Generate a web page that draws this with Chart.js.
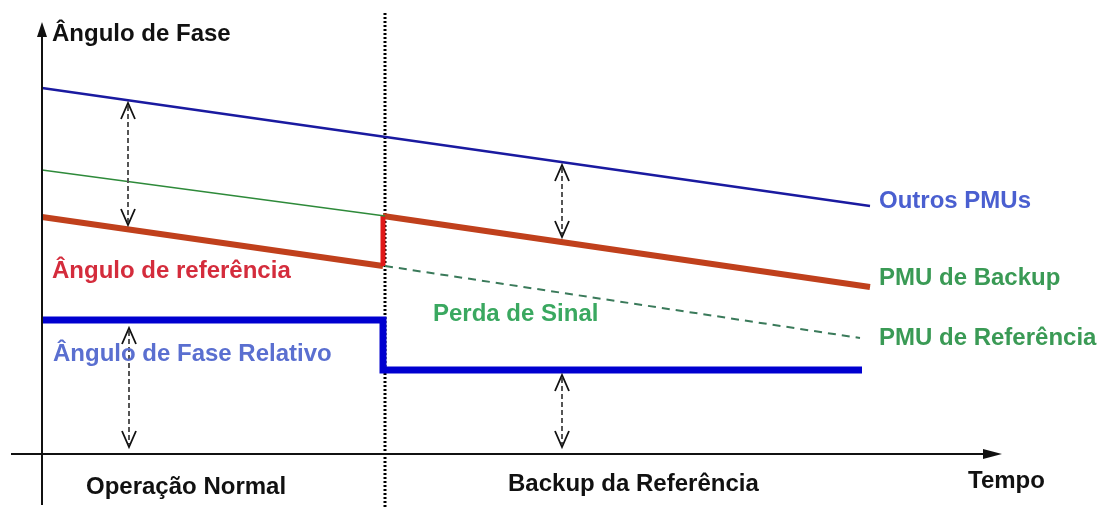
<!DOCTYPE html>
<html>
<head>
<meta charset="utf-8">
<script src="https://cdn.jsdelivr.net/npm/chart.js@4.4.1/dist/chart.umd.min.js"></script>
<style>
html,body{margin:0;padding:0;background:#fff;}
#wrap{width:1105px;height:508px;position:relative;}
</style>
</head>
<body>
<div id="wrap"><canvas id="c"></canvas></div>
<script>
// ---- Data (x = tempo, y = ângulo de fase, in diagram units) ----
const outrosPMUs      = [[42, 420], [870, 302]];
const pmuRefAntes     = [[42, 338], [385, 292]];
const anguloRefAntes  = [[42, 291], [383, 242]];
const saltoRef        = [[383, 242], [383, 292]];
const pmuBackup       = [[383, 292], [870, 221]];
const pmuRefPerda     = [[385, 242], [860, 170]];
const faseRelativo    = [[42, 188], [383, 188], [383, 138], [862, 138]];

// double-headed dashed arrows: [x, yTop, yBottom]
const setasDuplas = [[128, 405, 283], [129, 180, 61], [562, 343, 271], [562, 133, 61]];

// axes
const eixoY = {x: 42, yMin: 3, yMax: 486};
const eixoX = {y: 54, xMin: 11, xMax: 1002};
const linhaTransicao = {x: 385, yMin: 0, yMax: 495};

// labels: [text, x, y, color]
const rotulos = [
  ['Ângulo de Fase', 52, 467, '#111111'],
  ['Ângulo de referência', 52, 230, '#d42c3c'],
  ['Perda de Sinal', 433, 187, '#3aa860'],
  ['Ângulo de Fase Relativo', 53, 147, '#5a6fd0'],
  ['Outros PMUs', 879, 300, '#4a5fd0'],
  ['PMU de Backup', 879, 223, '#3a9a55'],
  ['PMU de Referência', 879, 163, '#3a9a55'],
  ['Operação Normal', 86, 14, '#111111'],
  ['Backup da Referência', 508, 17, '#111111'],
  ['Tempo', 968, 20, '#111111']
];

const toXY = arr => arr.map(p => ({x: p[0], y: p[1]}));

const diagramPlugin = {
  id: 'diagram',
  beforeDatasetsDraw(chart) {
    const ctx = chart.ctx, xs = chart.scales.x, ys = chart.scales.y;
    const X = v => xs.getPixelForValue(v), Y = v => ys.getPixelForValue(v);
    ctx.save();
    ctx.strokeStyle = '#000';
    ctx.lineWidth = 3;
    ctx.setLineDash([2, 2]);
    ctx.beginPath();
    ctx.moveTo(X(linhaTransicao.x), Y(linhaTransicao.yMax));
    ctx.lineTo(X(linhaTransicao.x), Y(linhaTransicao.yMin));
    ctx.stroke();
    ctx.setLineDash([]);
    ctx.restore();
  },
  afterDatasetsDraw(chart) {
    const ctx = chart.ctx, xs = chart.scales.x, ys = chart.scales.y;
    const X = v => xs.getPixelForValue(v), Y = v => ys.getPixelForValue(v);
    ctx.save();
    ctx.strokeStyle = '#111';
    ctx.fillStyle = '#111';
    ctx.lineWidth = 2;
    const ax = X(eixoY.x), ayTop = Y(eixoY.yMax), ayBot = Y(eixoY.yMin);
    ctx.beginPath(); ctx.moveTo(ax, ayBot); ctx.lineTo(ax, ayTop + 12); ctx.stroke();
    ctx.beginPath(); ctx.moveTo(ax, ayTop); ctx.lineTo(ax - 5, ayTop + 15); ctx.lineTo(ax + 5, ayTop + 15); ctx.closePath(); ctx.fill();
    const by = Y(eixoX.y), bxL = X(eixoX.xMin), bxR = X(eixoX.xMax);
    ctx.beginPath(); ctx.moveTo(bxL, by); ctx.lineTo(bxR - 12, by); ctx.stroke();
    ctx.beginPath(); ctx.moveTo(bxR, by); ctx.lineTo(bxR - 19, by - 5); ctx.lineTo(bxR - 19, by + 5); ctx.closePath(); ctx.fill();

    setasDuplas.forEach(s => {
      const x = X(s[0]), y1 = Y(s[1]), y2 = Y(s[2]);
      ctx.strokeStyle = '#555';
      ctx.lineWidth = 2;
      ctx.setLineDash([5, 3]);
      ctx.beginPath(); ctx.moveTo(x, y1 + 3); ctx.lineTo(x, y2 - 3); ctx.stroke();
      ctx.setLineDash([]);
      ctx.strokeStyle = '#111';
      ctx.lineWidth = 1.8;
      ctx.beginPath(); ctx.moveTo(x - 7, y1 + 16); ctx.lineTo(x, y1); ctx.lineTo(x + 7, y1 + 16); ctx.stroke();
      ctx.beginPath(); ctx.moveTo(x - 7, y2 - 16); ctx.lineTo(x, y2); ctx.lineTo(x + 7, y2 - 16); ctx.stroke();
    });

    ctx.font = 'bold 24px "Liberation Sans", Arial, sans-serif';
    ctx.textBaseline = 'alphabetic';
    ctx.textAlign = 'left';
    rotulos.forEach(r => {
      ctx.fillStyle = r[3];
      ctx.fillText(r[0], X(r[1]), Y(r[2]));
    });
    ctx.restore();
  }
};

const ds = (data, color, width, extra) => Object.assign({
  data: toXY(data), borderColor: color, borderWidth: width,
  pointRadius: 0, fill: false, tension: 0, borderCapStyle: 'butt', borderJoinStyle: 'miter'
}, extra || {});

new Chart(document.getElementById('c'), {
  type: 'line',
  data: {
    datasets: [
      ds(pmuRefPerda, '#3a7a5a', 2, {borderDash: [8, 6]}),
      ds(outrosPMUs, '#1a1aa0', 2.5),
      ds(pmuRefAntes, '#2e8a3a', 1.5),
      ds(saltoRef, '#e01818', 5),
      ds(anguloRefAntes, '#c0401c', 6),
      ds(pmuBackup, '#c0401c', 6),
      ds(anguloRefAntes, '#6a8030', 2),
      ds(pmuBackup, '#6a8030', 2),
      ds(faseRelativo, '#0000d0', 7)
    ]
  },
  options: {
    responsive: true,
    maintainAspectRatio: false,
    animation: false,
    layout: {padding: 0},
    plugins: {legend: {display: false}, tooltip: {enabled: false}},
    scales: {
      x: {type: 'linear', min: 0, max: 1105, display: false},
      y: {type: 'linear', min: 0, max: 508, display: false}
    }
  },
  plugins: [diagramPlugin]
});
</script>
</body>
</html>
